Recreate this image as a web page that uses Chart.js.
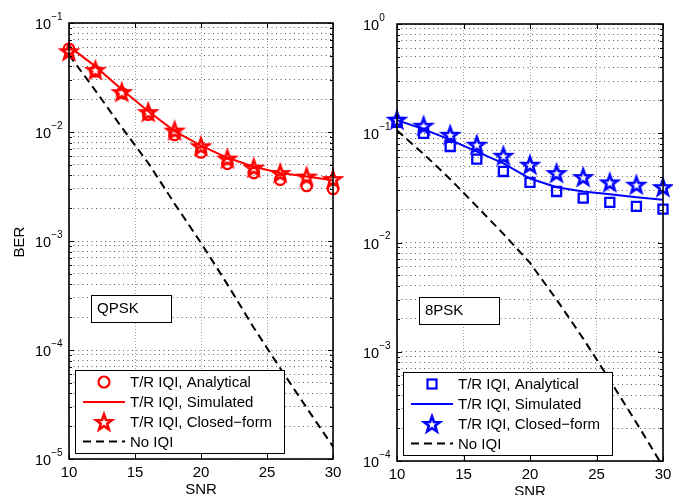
<!DOCTYPE html>
<html>
<head>
<meta charset="utf-8">
<script src="https://cdn.jsdelivr.net/npm/chart.js@4.4.0/dist/chart.umd.min.js"></script>
<style>
  html, body { margin: 0; padding: 0; background: #fff; }
  #wrap { position: relative; width: 673px; height: 495px; overflow: hidden; }
  #wrap canvas { position: absolute; left: 0; top: 0; }
</style>
</head>
<body>
<div id="wrap">
  <canvas id="qpsk-chart" width="673" height="495"></canvas>
  <canvas id="psk8-chart" width="673" height="495"></canvas>
</div>
<script>
'use strict';

/* ─── Data ─── */
const snr = [10, 12, 14, 16, 18, 20, 22, 24, 26, 28, 30];

const qpskAnalytical = [0.058, 0.036, 0.0228, 0.0144, 0.0094, 0.0065, 0.0051, 0.0042, 0.00365, 0.0032, 0.0030];
const qpskSimulated  = [0.061, 0.040, 0.0245, 0.0155, 0.0102, 0.0075, 0.0058, 0.0048, 0.0042, 0.0039, 0.0036];
const qpskClosed     = [0.055, 0.037, 0.0232, 0.0152, 0.0103, 0.0074, 0.0057, 0.0047, 0.0042, 0.0039, 0.0037];
const qpskNoIqi      = [0.051, 0.024, 0.011, 0.0052, 0.0022, 0.00096, 0.00040, 0.00016, 0.000068, 0.0000295, 0.000013];

const psk8Analytical = [0.1256, 0.100, 0.0757, 0.058, 0.0447, 0.0355, 0.0293, 0.0255, 0.0233, 0.0214, 0.0202];
const psk8Simulated  = [0.132, 0.109, 0.087, 0.068, 0.053, 0.0385, 0.032, 0.0293, 0.0277, 0.026, 0.0246];
const psk8Closed     = [0.133, 0.117, 0.0968, 0.0785, 0.0622, 0.0515, 0.0432, 0.0397, 0.0355, 0.0338, 0.0321];
const psk8NoIqi      = [0.106, 0.0646, 0.038, 0.0214, 0.012, 0.0065, 0.0030, 0.00132, 0.00055, 0.000224, 0.000089];

const xTicks      = [10, 15, 20, 25, 30];
const qpskDecades = [-5, -4, -3, -2, -1];
const psk8Decades = [-4, -3, -2, -1, 0];

const legendLabels = ['T/R IQI, Analytical', 'T/R IQI, Simulated', 'T/R IQI, Closed\u2212form', 'No IQI'];

const FONT = '"Liberation Sans", Arial, Helvetica, sans-serif';

/* ─── Helpers ─── */
function points(ys) {
  return snr.map((x, i) => ({ x, y: ys[i] }));
}

// log-axis tick values 1..9 x 10^e over the decade span
function logTicks(decades) {
  const out = [];
  for (let i = 0; i < decades.length - 1; i++) {
    for (let k = 1; k < 10; k++) out.push(k * Math.pow(10, decades[i]));
  }
  out.push(Math.pow(10, decades[decades.length - 1]));
  return out;
}

// five-pointed star marker (pentagram outline)
function starMarker(color) {
  const c = document.createElement('canvas');
  c.width = 24; c.height = 24;
  const g = c.getContext('2d');
  const R = 8.3, r = 3.4, cx = 12, cy = 12.7;
  g.beginPath();
  for (let i = 0; i < 10; i++) {
    const rad = i % 2 ? r : R;
    const a = -Math.PI / 2 + i * Math.PI / 5;
    const px = cx + rad * Math.cos(a), py = cy + rad * Math.sin(a);
    i ? g.lineTo(px, py) : g.moveTo(px, py);
  }
  g.closePath();
  g.strokeStyle = color;
  g.lineWidth = 2.6;
  g.lineJoin = 'miter';
  g.stroke();
  return c;
}

/* ─── Frame, ticks, labels, legend ─── */
const decorPlugin = {
  id: 'decor',
  afterDraw(chart, args, o) {
    const { ctx, chartArea: a, scales } = chart;
    const xs = scales.x, ys = scales.y;
    ctx.save();

    // inward tick marks on all four sides
    ctx.strokeStyle = '#000';
    ctx.lineWidth = 1;
    ctx.beginPath();
    xTicks.forEach(v => {
      const px = Math.round(xs.getPixelForValue(v)) + 0.5;
      ctx.moveTo(px, a.bottom); ctx.lineTo(px, a.bottom - 5);
      ctx.moveTo(px, a.top);    ctx.lineTo(px, a.top + 5);
    });
    logTicks(o.decades).forEach(v => {
      const py = Math.round(ys.getPixelForValue(v)) + 0.5;
      const major = Math.abs(Math.log10(v) % 1) < 1e-9;
      const len = major ? 5 : 3;
      ctx.moveTo(a.left, py);  ctx.lineTo(a.left + len, py);
      ctx.moveTo(a.right, py); ctx.lineTo(a.right - len, py);
    });
    ctx.stroke();

    // box
    ctx.lineWidth = 1.6;
    ctx.strokeRect(a.left, a.top, a.right - a.left, a.bottom - a.top);

    // x tick labels
    ctx.fillStyle = '#000';
    ctx.font = '15px ' + FONT;
    ctx.textAlign = 'center';
    ctx.textBaseline = 'middle';
    xTicks.forEach(v => ctx.fillText(String(v), xs.getPixelForValue(v), a.bottom + 14));

    // y tick labels, 10 with superscript exponent
    ctx.textAlign = 'left';
    o.decades.forEach(e => {
      const py = ys.getPixelForValue(Math.pow(10, e));
      const x0 = a.left - 34;
      ctx.font = '14.5px ' + FONT;
      ctx.fillText('10', x0, py + 2);
      const w = ctx.measureText('10').width;
      ctx.font = '10px ' + FONT;
      ctx.fillText(e < 0 ? '\u2212' + (-e) : String(e), x0 + w, py - 6);
    });

    // axis titles
    ctx.font = '15px ' + FONT;
    ctx.textAlign = 'center';
    ctx.fillText('SNR', (a.left + a.right) / 2, a.bottom + 31);
    if (o.yTitle) {
      ctx.save();
      ctx.translate(20, 242);
      ctx.rotate(-Math.PI / 2);
      ctx.fillText(o.yTitle, 0, 0);
      ctx.restore();
    }

    // modulation tag
    const tx = a.left + 22, ty = a.bottom - 164;
    ctx.fillStyle = '#fff';
    ctx.fillRect(tx, ty, 80, 27);
    ctx.lineWidth = 1;
    ctx.strokeStyle = '#000';
    ctx.strokeRect(tx + 0.5, ty + 0.5, 80, 27);
    ctx.fillStyle = '#000';
    ctx.textAlign = 'left';
    ctx.fillText(o.tag, tx + 6, ty + 14);

    // legend
    const lx = a.left + 6, ly = a.bottom - 89;
    ctx.fillStyle = '#fff';
    ctx.fillRect(lx, ly, 209, 83);
    ctx.strokeRect(lx + 0.5, ly + 0.5, 209, 83);
    const rows = [12, 32, 52, 71.5];
    const mx = lx + 29;
    ctx.strokeStyle = o.color;
    ctx.lineWidth = 2.2;
    // marker row 1
    if (o.marker === 'circle') {
      ctx.beginPath();
      ctx.arc(mx, ly + rows[0], 5.5, 0, Math.PI * 2);
      ctx.stroke();
    } else {
      ctx.strokeRect(mx - 4.5, ly + rows[0] - 4.5, 9, 9);
    }
    // line row 2
    ctx.lineWidth = 2;
    ctx.beginPath();
    ctx.moveTo(lx + 8, ly + rows[1]); ctx.lineTo(lx + 50, ly + rows[1]);
    ctx.stroke();
    // star row 3
    const st = o.star;
    ctx.drawImage(st, mx - st.width / 2, ly + rows[2] - st.height / 2);
    // dashed row 4
    ctx.strokeStyle = '#000';
    ctx.setLineDash([8, 5]);
    ctx.beginPath();
    ctx.moveTo(lx + 8, ly + rows[3]); ctx.lineTo(lx + 50, ly + rows[3]);
    ctx.stroke();
    ctx.setLineDash([]);

    ctx.fillStyle = '#000';
    ctx.font = '15px ' + FONT;
    ctx.textAlign = 'left';
    legendLabels.forEach((t, i) => ctx.fillText(t, lx + 55, ly + rows[i] + 1));

    ctx.restore();
  }
};

/* ─── Chart builder ─── */
function buildPanel(id, cfg) {
  const star = starMarker(cfg.color);
  const yVals = logTicks(cfg.decades);

  return new Chart(document.getElementById(id), {
    type: 'line',
    data: {
      datasets: [
        {
          label: legendLabels[0],
          data: points(cfg.analytical),
          showLine: false,
          pointStyle: cfg.marker === 'circle' ? 'circle' : 'rect',
          pointRadius: cfg.marker === 'circle' ? 5.2 : 6.4,
          pointBorderWidth: 2.3,
          pointBorderColor: cfg.color,
          pointBackgroundColor: 'rgba(0,0,0,0)',
          clip: false
        },
        {
          label: legendLabels[1],
          data: points(cfg.simulated),
          borderColor: cfg.color,
          borderWidth: 2,
          pointRadius: 0,
          tension: 0
        },
        {
          label: legendLabels[2],
          data: points(cfg.closed),
          showLine: false,
          pointStyle: star,
          pointRadius: 8,
          clip: false
        },
        {
          label: legendLabels[3],
          data: points(cfg.noIqi),
          borderColor: '#000',
          borderWidth: 2,
          borderDash: [8, 5],
          pointRadius: 0,
          tension: 0
        }
      ]
    },
    options: {
      responsive: false,
      animation: false,
      events: [],
      layout: { padding: cfg.padding },
      plugins: {
        legend: { display: false },
        tooltip: { enabled: false },
        decor: {
          decades: cfg.decades,
          color: cfg.color,
          marker: cfg.marker,
          star,
          tag: cfg.tag,
          yTitle: cfg.yTitle
        }
      },
      scales: {
        x: {
          type: 'linear',
          min: 10,
          max: 30,
          afterBuildTicks: s => { s.ticks = xTicks.map(v => ({ value: v })); },
          afterFit: s => { s.height = 0; },
          ticks: { display: false },
          grid: { color: '#a0a0a0', lineWidth: 1, drawTicks: false },
          border: { display: false, dash: [1, 2] }
        },
        y: {
          type: 'logarithmic',
          min: Math.pow(10, cfg.decades[0]),
          max: Math.pow(10, cfg.decades[cfg.decades.length - 1]),
          afterBuildTicks: s => { s.ticks = yVals.map(v => ({ value: v })); },
          afterFit: s => { s.width = 0; },
          ticks: { display: false },
          grid: { color: '#5a5a5a', lineWidth: 1, drawTicks: false },
          border: { display: false, dash: [1, 3.5] }
        }
      }
    },
    plugins: [decorPlugin]
  });
}

buildPanel('qpsk-chart', {
  color: '#ff0000',
  marker: 'circle',
  tag: 'QPSK',
  yTitle: 'BER',
  decades: qpskDecades,
  analytical: qpskAnalytical,
  simulated: qpskSimulated,
  closed: qpskClosed,
  noIqi: qpskNoIqi,
  padding: { left: 69, right: 673 - 333, top: 23, bottom: 495 - 459 }
});

buildPanel('psk8-chart', {
  color: '#0000ff',
  marker: 'rect',
  tag: '8PSK',
  yTitle: null,
  decades: psk8Decades,
  analytical: psk8Analytical,
  simulated: psk8Simulated,
  closed: psk8Closed,
  noIqi: psk8NoIqi,
  padding: { left: 397, right: 673 - 663, top: 24, bottom: 495 - 461 }
});
</script>
</body>
</html>
